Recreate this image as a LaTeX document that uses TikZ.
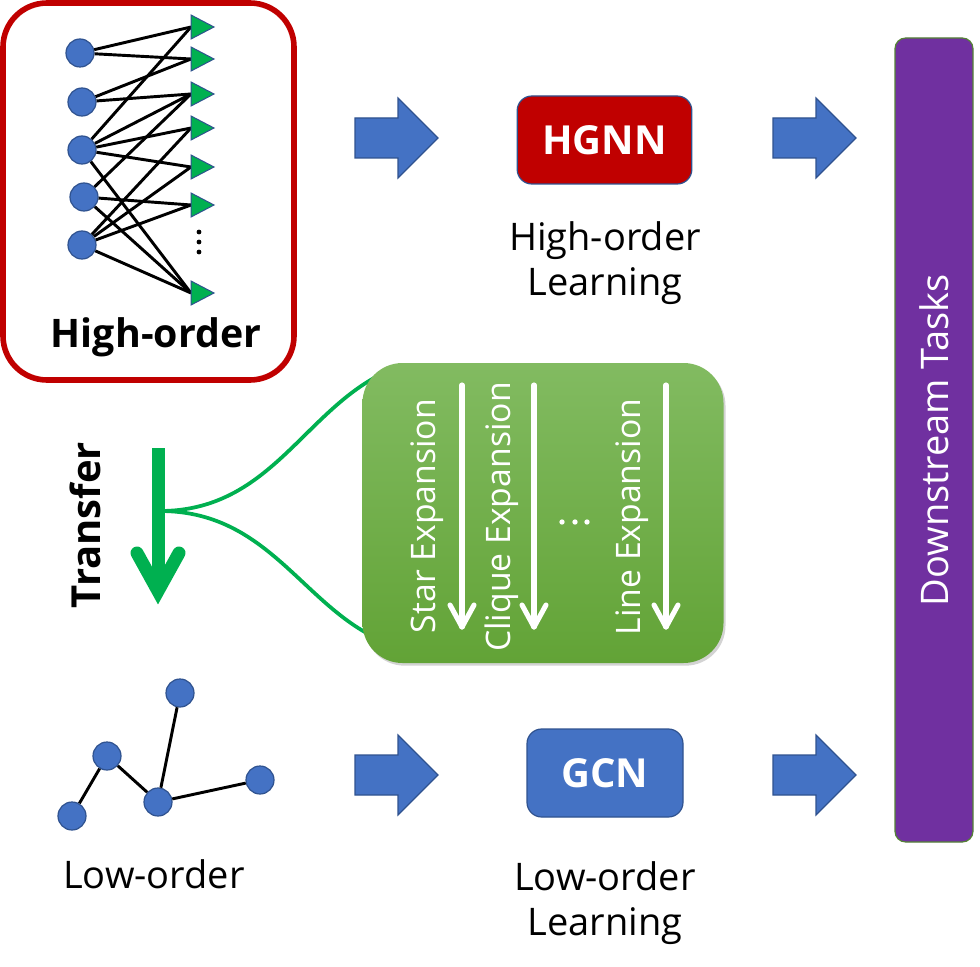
\documentclass[tikz,border=0pt]{standalone}
\usepackage{fontspec}
\setmainfont{Open Sans}
\usetikzlibrary{shadows}
\definecolor{nblue}{HTML}{4472C4}
\definecolor{nblueb}{HTML}{2F528F}
\definecolor{dred}{HTML}{C00000}
\definecolor{tgreen}{HTML}{00B050}
\definecolor{purp}{HTML}{7030A0}
\definecolor{pborder}{HTML}{548235}
\definecolor{gtop}{HTML}{82BB61}
\definecolor{gbot}{HTML}{62A336}
\begin{document}
\begin{tikzpicture}[x=0.75pt,y=-0.75pt,
  vtx/.style={circle,fill=nblue,draw=nblueb,line width=0.9pt,minimum size=21pt,inner sep=0pt},
  hedge/.style={line width=2.2pt,black},
  tri/.style={fill=tgreen,draw=nblueb,line width=0.75pt},
  barrow/.style={fill=nblue,draw=nblueb,line width=0.9pt},
  reglbl/.style={font=\fontsize{28.5}{33.75}\selectfont,align=center,inner sep=0pt},
  boldlbl/.style={font=\fontsize{29.5}{33}\selectfont\bfseries,inner sep=0pt},
  modelbox/.style={draw=nblueb,line width=0.9pt,rounded corners=11pt,text=white,
    font=\fontsize{30}{33}\selectfont\bfseries,minimum height=66pt},
  exptext/.style={rotate=90,anchor=base,text=white,font=\fontsize{25.3}{30}\selectfont,inner sep=0pt},
  wline/.style={white,line width=3.8pt,line cap=round},
  gline/.style={tgreen,line width=2.8pt}
]
\useasboundingbox (0,0) rectangle (980,966);

% ---------- high-order box ----------
\draw[dred,line width=4.2pt,rounded corners=33pt] (3,3) rectangle (294,380);

\node[vtx] (c1) at (80,53) {};
\node[vtx] (c2) at (82,102) {};
\node[vtx] (c3) at (82,150) {};
\node[vtx] (c4) at (84,197) {};
\node[vtx] (c5) at (82,245) {};

\foreach \i/\ty in {1/27,2/59,3/94,4/128,5/167,6/205,7/293}{
  \coordinate (t\i) at (191,\ty);
}
\foreach \a/\b in {c1/t1,c1/t2,c2/t2,c2/t3,c3/t1,c3/t3,c3/t4,c3/t5,c3/t7,
                   c4/t3,c4/t6,c4/t7,c5/t4,c5/t5,c5/t6,c5/t7}{
  \draw[hedge] (\a) -- (\b);
}
\foreach \i in {1,...,7}{
  \draw[tri] (t\i) ++(0,-12) -- ++(23,12) -- ++(-23,12) -- cycle;
}
\foreach \dy in {232,242,252}{
  \fill (199,\dy) circle (1.8pt);
}
\node[boldlbl,anchor=base] (hlbl) at (156,347) {High-order};

% ---------- block arrows ----------
\foreach \ax/\ay in {355/138,773/138,355/775,773/775}{
  \draw[barrow,shift={(\ax,\ay)}] (0,-20) -- (43,-20) -- (43,-40) -- (83,0) -- (43,40) -- (43,20) -- (0,20) -- cycle;
}

% ---------- HGNN ----------
\node[modelbox,fill=dred,minimum width=131pt] (hgnn) at (604.5,140) {HGNN};
\node[reglbl] (hlearn) at (605,263) {High-order\\Learning};

% ---------- GCN ----------
\node[modelbox,fill=nblue,minimum width=117pt] (gcn) at (605,773) {GCN};
\node[reglbl] (llearn) at (605,903) {Low-order\\Learning};

% ---------- Downstream ----------
\node[rotate=90,draw=pborder,line width=0.9pt,fill=purp,rounded corners=8pt,
      minimum width=603pt,minimum height=58.5pt,text=white,
      font=\fontsize{28.5}{30}\selectfont] (down) at (934,440) {Downstream Tasks};

% ---------- transfer ----------
\coordinate (split) at (160,511);
\coordinate (etop) at (374,378);
\coordinate (ebot) at (374,637);
\draw[gline] (split) .. controls (265,511) and (300,420) .. (etop);
\draw[gline] (split) .. controls (265,511) and (300,600) .. (ebot);
\draw[tgreen,line width=9.75pt] (158,448) -- (158,590);
\draw[tgreen,line width=9.75pt,line cap=round,line join=miter] (137,553) -- (158,591) -- (179,553);
\node[rotate=90,anchor=base,font=\fontsize{30}{33}\selectfont\bfseries,inner sep=0pt] (transfer) at (100,525) {Transfer};

% ---------- expansion box ----------
\node[top color=gtop,bottom color=gbot,draw=none,rounded corners=30pt,
      minimum width=270.75pt,minimum height=225pt,
      drop shadow={opacity=0.35,shadow xshift=1.5pt,shadow yshift=-2pt}] (exp) at (543,513) {};
\node[exptext] (star) at (435,516) {Star Expansion};
\node[exptext] (clique) at (510,517) {Clique Expansion};
\node[exptext] (line) at (640,517) {Line Expansion};
\foreach \dx in {562,575,587}{
  \fill[white] (\dx,522) circle (2pt);
}
\foreach \ax in {462,534,666}{
  \draw[wline] (\ax,385) -- (\ax,627);
  \draw[wline,line join=round] (\ax-12,605) -- (\ax,627) -- (\ax+12,605);
}

% ---------- low-order graph ----------
\node[vtx] (l1) at (180,693) {};
\node[vtx] (l2) at (107,756) {};
\node[vtx] (l3) at (158,802) {};
\node[vtx] (l4) at (260,780) {};
\node[vtx] (l5) at (72,816) {};
\draw[hedge] (l5) -- (l2);
\draw[hedge] (l2) -- (l3);
\draw[hedge] (l3) -- (l1);
\draw[hedge] (l3) -- (l4);
\node[reglbl,anchor=base] (llbl) at (154,888) {Low-order};
\end{tikzpicture}
\end{document}
